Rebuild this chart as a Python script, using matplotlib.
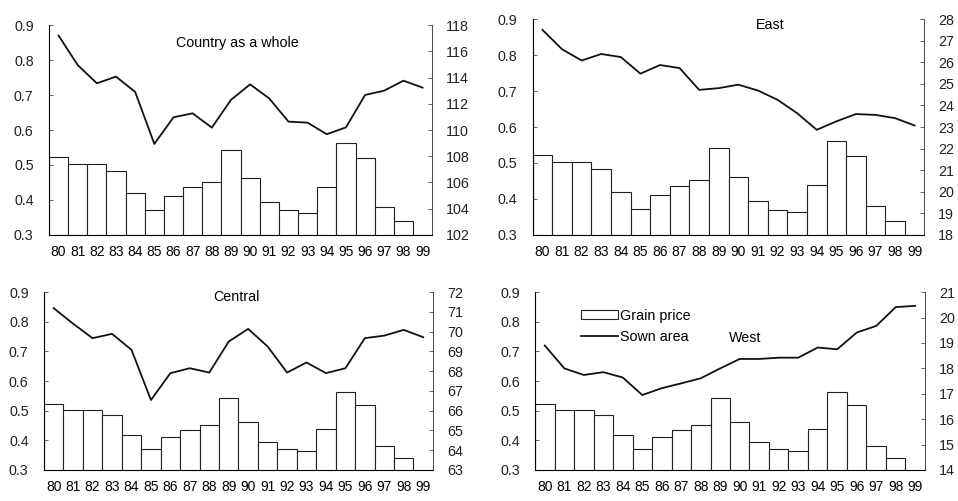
import matplotlib
matplotlib.use("Agg")
import matplotlib.pyplot as plt
import numpy as np

plt.rcParams['font.family'] = ['Liberation Sans', 'DejaVu Sans']

years = ['80', '81', '82', '83', '84', '85', '86', '87', '88', '89',
         '90', '91', '92', '93', '94', '95', '96', '97', '98', '99']

# grain price (same in every panel), no bar for 99
grain_price = [0.522, 0.504, 0.504, 0.484, 0.419, 0.371, 0.412, 0.436, 0.452, 0.542,
               0.462, 0.393, 0.370, 0.364, 0.438, 0.562, 0.519, 0.381, 0.339, np.nan]

sown_country = [117.2, 114.95, 113.56, 114.07, 112.9, 108.94, 110.97, 111.27, 110.18, 112.3,
                113.48, 112.4, 110.64, 110.56, 109.68, 110.2, 112.67, 113.0, 113.76, 113.23]
sown_east = [27.5, 26.6, 26.08, 26.38, 26.24, 25.47, 25.87, 25.73, 24.72, 24.8,
             24.96, 24.69, 24.26, 23.64, 22.87, 23.26, 23.6, 23.56, 23.41, 23.07]
sown_central = [71.19, 70.4, 69.67, 69.89, 69.08, 66.54, 67.9, 68.15, 67.93, 69.5,
                70.14, 69.25, 67.93, 68.44, 67.9, 68.15, 69.67, 69.8, 70.09, 69.72]
sown_west = [18.9, 18.0, 17.74, 17.85, 17.64, 16.95, 17.22, 17.41, 17.61, 18.0,
             18.37, 18.37, 18.42, 18.42, 18.82, 18.75, 19.41, 19.67, 20.41, 20.46]

panels = [
    # title, sown data, right range, right ticks, axes rect, title pos
    ("Country as a whole", sown_country, (102, 118), range(102, 119, 2),
     [0.0511, 0.531, 0.400, 0.419], (0.493, 0.914)),
    ("East", sown_east, (18, 28), range(18, 29),
     [0.556, 0.531, 0.409, 0.431], (0.605, 0.972)),
    ("Central", sown_central, (63, 72), range(63, 73),
     [0.0459, 0.0619, 0.406, 0.355], (0.496, 0.972)),
    ("West", sown_west, (14, 21), range(14, 22),
     [0.5585, 0.0619, 0.407, 0.355], (0.538, 0.742)),
]

FS = 10.3
fig = plt.figure(figsize=(9.58, 5.01), dpi=100)
x = np.arange(len(years))

for i, (title, sown, rlim, rticks, rect, tpos) in enumerate(panels):
    ax = fig.add_axes(rect)
    bars = ax.bar(x, grain_price, width=1.0, bottom=0, color='white',
                  edgecolor='#222222', linewidth=0.8, label='Grain price')
    ax.set_ylim(0.3, 0.9)
    ax.set_xlim(-0.5, 19.5)
    ax.set_yticks([0.3, 0.4, 0.5, 0.6, 0.7, 0.8, 0.9])
    ax.set_yticklabels(['0.3', '0.4', '0.5', '0.6', '0.7', '0.8', '0.9'])
    ax.set_xticks(x)
    ax.set_xticklabels(years)
    ax.tick_params(axis='x', length=0, labelsize=FS - 0.3, pad=7)
    ax.tick_params(axis='y', direction='in', length=3, width=0.5, labelsize=FS, pad=11,
                   colors='#222222')
    ax.spines['top'].set_visible(False)
    for s in ['left', 'bottom', 'right']:
        ax.spines[s].set_linewidth(0.7)
        ax.spines[s].set_color('#333333')

    ax2 = ax.twinx()
    line, = ax2.plot(x, sown, color='#111111', linewidth=1.3, label='Sown area')
    ax2.set_ylim(*rlim)
    ax2.set_yticks(list(rticks))
    ax2.tick_params(axis='y', direction='in', length=3, width=0.5, labelsize=FS, pad=10,
                    colors='#222222')
    ax2.spines['top'].set_visible(False)
    ax2.spines['right'].set_linewidth(0.5)
    ax2.spines['right'].set_color('#555555')

    ax.text(tpos[0], tpos[1], title, transform=ax.transAxes, ha='center',
            va='center', fontsize=FS)

    if title == "West":
        ax.legend([bars, line], ['Grain price', 'Sown area'], loc='upper left',
                  bbox_to_anchor=(0.085, 0.98), frameon=False, fontsize=FS,
                  handlelength=2.6, handleheight=0.5, handletextpad=0.1,
                  labelspacing=0.5)

fig.savefig("out.png", dpi=100)
